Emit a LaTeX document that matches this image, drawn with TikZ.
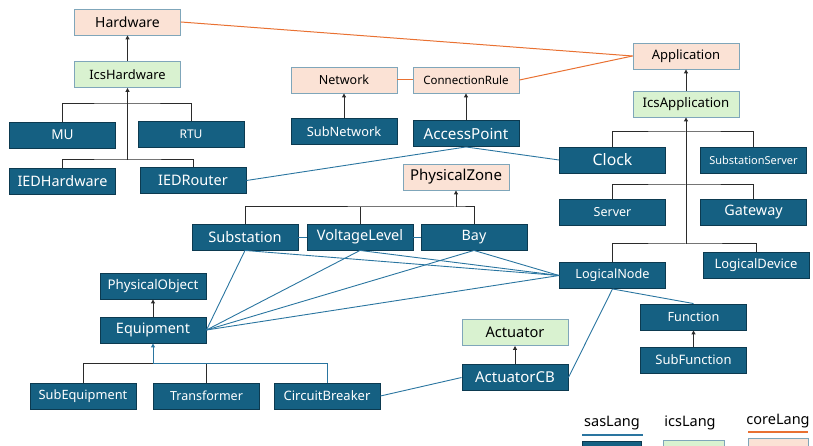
\documentclass[tikz,border=0pt]{standalone}
\usepackage{fontspec}
\setmainfont{Noto Sans}
\usetikzlibrary{arrows.meta}
\definecolor{sasfill}{HTML}{156082}
\definecolor{sasborder}{HTML}{0C3A50}
\definecolor{icsfill}{HTML}{D9F2D0}
\definecolor{corefill}{HTML}{FBE2D5}
\definecolor{lightborder}{HTML}{7FA6BA}
\definecolor{assoc}{HTML}{2A75A0}
\definecolor{orangeline}{HTML}{E97132}
\definecolor{treecol}{HTML}{2B2B2B}
\begin{document}
\begin{tikzpicture}[x=1pt,y=-1pt,
  box/.style={rectangle, minimum width=106pt, minimum height=26pt, inner sep=0pt, line width=0.9pt},
  sas/.style={box, fill=sasfill, draw=sasborder, text=white},
  ics/.style={box, fill=icsfill, draw=lightborder, text=black},
  core/.style={box, fill=corefill, draw=lightborder, text=black},
  fs/.style={font=\fontsize{#1}{#1}\selectfont},
  tree/.style={draw=treecol, line width=1pt},
  gen/.style={tree, -{Triangle[length=4pt,width=4pt]}},
  blugen/.style={draw=assoc, line width=1pt, -{Triangle[length=4pt,width=4pt]}},
  asc/.style={draw=assoc, line width=0.9pt},
  orl/.style={draw=orangeline, line width=1pt},
  legtext/.style={fs=14.5, text=black, inner sep=0pt}
]
\useasboundingbox (0,0) rectangle (813,446);

% ---- nodes ----
\node[core, fs=14] (Hardware) at (127.5,22) {Hardware};
\node[ics, fs=12.9] (IcsHardware) at (127.5,74.5) {IcsHardware};
\node[sas, fs=13.6] (MU) at (62.5,135) {MU};
\node[sas, fs=12] (RTU) at (191,134.5) {RTU};
\node[sas, fs=14.4] (IEDHardware) at (62.5,181) {IEDHardware};
\node[sas, fs=14.5] (IEDRouter) at (193,180.5) {IEDRouter};

\node[core, fs=12.5] (Network) at (344,80) {Network};
\node[core, fs=11.5] (ConnectionRule) at (466,80) {ConnectionRule};
\node[sas, fs=12.8] (SubNetwork) at (344,131.5) {SubNetwork};
\node[sas, fs=15.2] (AccessPoint) at (466,133.5) {AccessPoint};
\node[core, fs=15] (PhysicalZone) at (456,177) {PhysicalZone};

\node[core, fs=13] (Application) at (686,56) {Application};
\node[ics, fs=13.2] (IcsApplication) at (686,104) {IcsApplication};
\node[sas, fs=15.8] (Clock) at (612.5,160) {Clock};
\node[sas, fs=11] (SubstationServer) at (753.5,160) {SubstationServer};
\node[sas, fs=12.5] (Server) at (612.5,212.5) {Server};
\node[sas, fs=14.4] (Gateway) at (753.5,212.5) {Gateway};
\node[sas, fs=12.7] (LogicalNode) at (612.5,275.5) {LogicalNode};
\node[sas, fs=13] (LogicalDevice) at (756,265.5) {LogicalDevice};

\node[sas, fs=14.6] (Substation) at (245,237) {Substation};
\node[sas, fs=14.5] (VoltageLevel) at (360,237) {VoltageLevel};
\node[sas, fs=14.3] (Bay) at (474,237) {Bay};

\node[sas, fs=13.3] (PhysicalObject) at (153,286) {PhysicalObject};
\node[sas, fs=14.4] (Equipment) at (153,330) {Equipment};
\node[sas, fs=12.8] (SubEquipment) at (83,396) {SubEquipment};
\node[sas, fs=12.5] (Transformer) at (206.5,396) {Transformer};
\node[sas, fs=13] (CircuitBreaker) at (327,396) {CircuitBreaker};

\node[ics, fs=14.6] (Actuator) at (515,332.5) {Actuator};
\node[sas, fs=15] (ActuatorCB) at (515,377.5) {ActuatorCB};
\node[sas, fs=12.7] (Function) at (693.5,317) {Function};
\node[sas, fs=13] (SubFunction) at (693.5,360) {SubFunction};

% ---- legend ----
\node[legtext] (lsas) at (612,423) {sasLang};
\node[legtext] (lics) at (690,423) {icsLang};
\node[legtext] (lcore) at (778,421) {coreLang};
\node[sas, minimum width=59pt, minimum height=20pt] (legsas) at (611.5,451) {};
\node[ics, minimum width=61pt, minimum height=20pt] (legics) at (693.5,450) {};
\node[core, minimum width=60pt, minimum height=20pt] (legcore) at (778,448) {};
\coordinate (usas1) at (582,435); \coordinate (usas2) at (643,435);
\coordinate (ucore1) at (748,432); \coordinate (ucore2) at (808,432);
\draw[draw=assoc, line width=1.2pt] (usas1) -- (usas2);
\draw[orl, line width=1.2pt] (ucore1) -- (ucore2);

% ---- junction coordinates ----
\coordinate (hj1) at (127.5,104);
\coordinate (hj2) at (127.5,160);
\coordinate (aj1) at (686,132);
\coordinate (aj2) at (686,185);
\coordinate (aj3) at (686,244);
\coordinate (pj) at (456,207);
\coordinate (ej) at (153,363);

% ---- orange (core) links ----
\draw[orl] (Hardware.east) -- (Application.west);
\draw[orl] (ConnectionRule.east) -- (Application.west);
\draw[orl] (Network.east) -- (ConnectionRule.west);

% ---- generalisation trees ----
\draw[gen] (IcsHardware.north) -- (Hardware.south);
\draw[tree] (MU.north) |- (hj1) -| (RTU.north);
\draw[tree] (IEDHardware.north) |- (hj2) -| (IEDRouter.north);
\draw[gen] (hj2) -- (IcsHardware.south);

\draw[gen] (SubNetwork.north) -- (Network.south);
\draw[gen] (AccessPoint.north) -- (ConnectionRule.south);

\draw[gen] (IcsApplication.north) -- (Application.south);
\draw[tree] (Clock.north) |- (aj1) -| (SubstationServer.north);
\draw[tree] (Server.north) |- (aj2) -| (Gateway.north);
\draw[tree] (LogicalNode.north) |- (aj3) -| (LogicalDevice.north);
\draw[gen] (aj3) -- (IcsApplication.south);

\draw[tree] (Substation.north) |- (pj) -| (Bay.north);
\draw[tree] (VoltageLevel.north) -- (VoltageLevel.north |- pj);
\draw[gen] (pj) -- (PhysicalZone.south);

\draw[gen] (Equipment.north) -- (PhysicalObject.south);
\draw[tree] (SubEquipment.north) |- (ej);
\draw[tree] (Transformer.north) -- (Transformer.north |- ej);
\draw[asc, line width=1pt] (ej) -| (CircuitBreaker.north);
\draw[blugen] (ej) -- (Equipment.south);

\draw[gen] (ActuatorCB.north) -- (Actuator.south);
\draw[gen] (SubFunction.north) -- (Function.south);

% ---- associations ----
\draw[asc] (IEDRouter.east) -- (AccessPoint.south);
\draw[asc] (AccessPoint.south) -- (Clock.west);
\draw[asc] (Substation.east) -- (VoltageLevel.west);
\draw[asc] (VoltageLevel.east) -- (Bay.west);
\draw[asc] (Substation.south) -- (Equipment.east);
\draw[asc] (VoltageLevel.south) -- (Equipment.east);
\draw[asc] (Bay.south) -- (Equipment.east);
\draw[asc] (LogicalNode.west) -- (Equipment.east);
\draw[asc] (Substation.south) -- (LogicalNode.west);
\draw[asc] (VoltageLevel.south) -- (LogicalNode.west);
\draw[asc] (Bay.south) -- (LogicalNode.west);
\draw[asc] (LogicalNode.south) -- (Function.north);
\draw[asc] (LogicalNode.south) -- (ActuatorCB.east);
\draw[asc] (CircuitBreaker.east) -- (ActuatorCB.west);
\end{tikzpicture}
\end{document}
